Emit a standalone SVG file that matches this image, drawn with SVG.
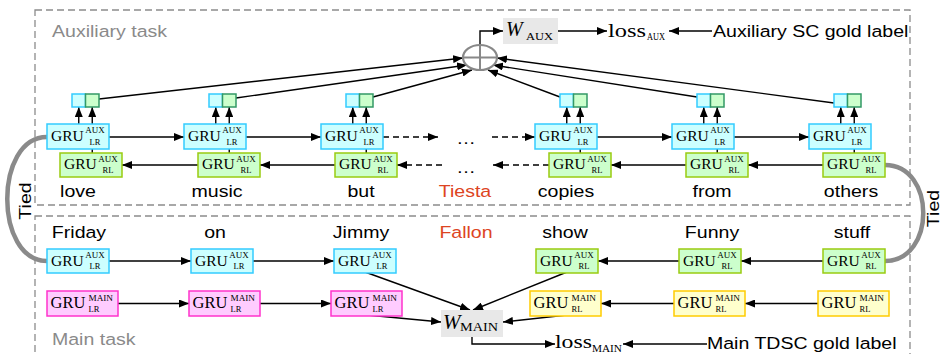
<svg xmlns="http://www.w3.org/2000/svg" width="941" height="354" viewBox="0 0 941 354">
<defs>
<marker id="ah" markerUnits="userSpaceOnUse" markerWidth="10" markerHeight="8" refX="10" refY="4" orient="auto" viewBox="0 0 10 8">
<path d="M0,0 L10,4 L0,8 Z" fill="#000"/>
</marker>
</defs>
<style>
.frame{fill:none;stroke:#8c8c8c;stroke-width:1.3;stroke-dasharray:7 4}
.c{fill:none;stroke:#000;stroke-width:1.4}
.a{fill:none;stroke:#000;stroke-width:1.4;marker-end:url(#ah)}
.d{stroke-dasharray:6 4}
.tie{fill:none;stroke:#8a8a8a;stroke-width:4.5}
.cy{fill:#ccffff;stroke:#33ccff;stroke-width:1.5}
.gr{fill:#ccffcc;stroke:#99cc11;stroke-width:1.5}
.sq{fill:#ccffcc;stroke:#339966;stroke-width:1.5}
.mg{fill:#ffccff;stroke:#ff33cc;stroke-width:1.5}
.ye{fill:#ffffcc;stroke:#ffcc00;stroke-width:1.5}
.wb{fill:#e8e8e8}
.g{font-family:"Liberation Serif",serif;font-size:15.5px;fill:#000}
.gm{font-family:"Liberation Serif",serif;font-size:16.5px;fill:#000}
.sp{font-family:"Liberation Serif",serif;font-size:9px;fill:#000;text-anchor:middle}
.sb{font-family:"Liberation Serif",serif;font-size:8.5px;fill:#000;text-anchor:middle}
.spm{font-family:"Liberation Serif",serif;font-size:9.2px;fill:#000}
.sbm{font-family:"Liberation Serif",serif;font-size:8.5px;fill:#000}
.w{font-family:"Liberation Sans",Arial,sans-serif;font-size:17px;fill:#000;text-anchor:middle}
.red{fill:#dd4422}
.lab{font-family:"Liberation Sans",Arial,sans-serif;font-size:17px;fill:#000}
.gray{fill:#8a8a8a}
.wi{font-family:"Liberation Serif",serif;font-style:italic;fill:#000}
.s{font-family:"Liberation Serif",serif;fill:#000}
</style>

<g id="frames">
<rect class="frame" x="35" y="10" width="875" height="195"/>
<rect class="frame" x="35" y="216" width="875" height="150"/>
<text class="lab gray" transform="translate(52,37) scale(1.15,1)">Auxiliary task</text>
<text class="lab gray" transform="translate(52,345) scale(1.15,1)">Main task</text>
</g>

<g id="connectors">
<path class="tie" d="M47,137 C-6,137 -6,261 47,261"/>
<path class="tie" d="M885,165 C936,165 936,261 885,261"/>
<path class="a" d="M78.75,124 V107"/><path class="a" d="M92.25,124 V107"/>
<path class="a" d="M215.75,124 V107"/><path class="a" d="M229.25,124 V107"/>
<path class="a" d="M352.75,124 V107"/><path class="a" d="M366.25,124 V107"/>
<path class="a" d="M566.75,124 V107"/><path class="a" d="M580.25,124 V107"/>
<path class="a" d="M703.75,124 V107"/><path class="a" d="M717.25,124 V107"/>
<path class="a" d="M840.75,124 V107"/><path class="a" d="M854.25,124 V107"/>
<path class="c" d="M92.25,149 V153"/><path class="c" d="M229.25,149 V153"/>
<path class="c" d="M366.25,149 V153"/><path class="c" d="M580.25,149 V153"/>
<path class="c" d="M717.25,149 V153"/><path class="c" d="M854.25,149 V153"/>
<path class="a" d="M109,137 H184"/>
<path class="a" d="M246,137 H321"/>
<path class="a d" d="M383,137 H438"/>
<path class="a d" d="M492,137 H535"/>
<path class="a" d="M597,137 H672"/>
<path class="a" d="M734,137 H809"/>
<path class="a" d="M198,165 H122"/>
<path class="a" d="M335,165 H260"/>
<path class="a d" d="M442,165 H397"/>
<path class="a d" d="M549,165 H493"/>
<path class="a" d="M686,165 H611"/>
<path class="a" d="M823,165 H748"/>
<path class="a" d="M99,99 L463,58"/>
<path class="a" d="M236,98 L467,65"/>
<path class="a" d="M373,97 L472,70"/>
<path class="a" d="M560,97 L488,70"/>
<path class="a" d="M697,97 L493,65"/>
<path class="a" d="M834,103 L497,58"/>
<path class="a" d="M480,45 V31 H503"/>
<path class="a" d="M558,31 H607"/>
<path class="a" d="M712,31 H669"/>
<path class="a" d="M109,261 H191"/>
<path class="a" d="M253,261 H334"/>
<path class="a" d="M823,261 H741"/>
<path class="a" d="M679,261 H598"/>
<path class="a" d="M118,303.5 H189"/>
<path class="a" d="M260,303.5 H331"/>
<path class="a" d="M818,303.5 H745"/>
<path class="a" d="M674,303.5 H601"/>
<path class="a" d="M365,272 L470,310"/>
<path class="a" d="M567,272 L473,310"/>
<path class="a" d="M367,315 L441,322"/>
<path class="a" d="M567,315 L503,322"/>
<path class="a" d="M472,337 V344 H555"/>
<path class="a" d="M707,344 H623"/>
</g>

<g id="combiner">
<ellipse cx="480" cy="57.5" rx="17" ry="12.5" fill="#fff" stroke="#888" stroke-width="2.2"/>
<path d="M480,45 V70 M463,57.5 H497" stroke="#888" stroke-width="2" fill="none"/>
</g>

<g id="w-aux">
<rect class="wb" x="503" y="18" width="55" height="26"/>
<text class="wi" x="506" y="36" font-size="20">W</text>
<text class="s" x="526" y="39.5" font-size="11" textLength="27" lengthAdjust="spacingAndGlyphs">AUX</text>
</g>
<g id="loss-aux">
<text class="s" x="608" y="36.5" font-size="18" textLength="38" lengthAdjust="spacingAndGlyphs">loss</text>
<text class="s" x="647" y="40" font-size="10" textLength="18" lengthAdjust="spacingAndGlyphs">AUX</text>
</g>
<g id="gold-aux"><text class="lab" transform="translate(713,37) scale(1.15,1)">Auxiliary SC gold label</text></g>

<g id="w-main">
<rect class="wb" x="441" y="310" width="62" height="27"/>
<text class="wi" x="443" y="329" font-size="21">W</text>
<text class="s" x="460" y="331" font-size="11.5" textLength="38" lengthAdjust="spacingAndGlyphs">MAIN</text>
</g>
<g id="loss-main">
<text class="s" x="555" y="348" font-size="18" textLength="37" lengthAdjust="spacingAndGlyphs">loss</text>
<text class="s" x="592" y="352" font-size="10" textLength="30" lengthAdjust="spacingAndGlyphs">MAIN</text>
</g>
<g id="gold-main"><text class="lab" transform="translate(707,349) scale(1.15,1)">Main TDSC gold label</text></g>

<g id="out1"><rect class="cy" x="72" y="94" width="13.5" height="13"/><rect class="sq" x="85.5" y="94" width="13.5" height="13"/></g>
<g id="out2"><rect class="cy" x="209" y="94" width="13.5" height="13"/><rect class="sq" x="222.5" y="94" width="13.5" height="13"/></g>
<g id="out3"><rect class="cy" x="346" y="94" width="13.5" height="13"/><rect class="sq" x="359.5" y="94" width="13.5" height="13"/></g>
<g id="out4"><rect class="cy" x="560" y="94" width="13.5" height="13"/><rect class="sq" x="573.5" y="94" width="13.5" height="13"/></g>
<g id="out5"><rect class="cy" x="697" y="94" width="13.5" height="13"/><rect class="sq" x="710.5" y="94" width="13.5" height="13"/></g>
<g id="out6"><rect class="cy" x="834" y="94" width="13.5" height="13"/><rect class="sq" x="847.5" y="94" width="13.5" height="13"/></g>

<g id="alr1"><rect class="cy" x="47" y="124" width="62" height="25"/><text class="g" x="51" y="140.5">GRU</text><text class="sp" x="95" y="133">AUX</text><text class="sb" x="95" y="144.5">LR</text></g>
<g id="alr2"><rect class="cy" x="184" y="124" width="62" height="25"/><text class="g" x="188" y="140.5">GRU</text><text class="sp" x="232" y="133">AUX</text><text class="sb" x="232" y="144.5">LR</text></g>
<g id="alr3"><rect class="cy" x="321" y="124" width="62" height="25"/><text class="g" x="325" y="140.5">GRU</text><text class="sp" x="369" y="133">AUX</text><text class="sb" x="369" y="144.5">LR</text></g>
<g id="alr4"><rect class="cy" x="535" y="124" width="62" height="25"/><text class="g" x="539" y="140.5">GRU</text><text class="sp" x="583" y="133">AUX</text><text class="sb" x="583" y="144.5">LR</text></g>
<g id="alr5"><rect class="cy" x="672" y="124" width="62" height="25"/><text class="g" x="676" y="140.5">GRU</text><text class="sp" x="720" y="133">AUX</text><text class="sb" x="720" y="144.5">LR</text></g>
<g id="alr6"><rect class="cy" x="809" y="124" width="62" height="25"/><text class="g" x="813" y="140.5">GRU</text><text class="sp" x="857" y="133">AUX</text><text class="sb" x="857" y="144.5">LR</text></g>

<g id="arl1"><rect class="gr" x="60" y="153" width="62" height="24"/><text class="g" x="64" y="169">GRU</text><text class="sp" x="108" y="161.5">AUX</text><text class="sb" x="108" y="173">RL</text></g>
<g id="arl2"><rect class="gr" x="198" y="153" width="62" height="24"/><text class="g" x="202" y="169">GRU</text><text class="sp" x="246" y="161.5">AUX</text><text class="sb" x="246" y="173">RL</text></g>
<g id="arl3"><rect class="gr" x="335" y="153" width="62" height="24"/><text class="g" x="339" y="169">GRU</text><text class="sp" x="383" y="161.5">AUX</text><text class="sb" x="383" y="173">RL</text></g>
<g id="arl4"><rect class="gr" x="549" y="153" width="62" height="24"/><text class="g" x="553" y="169">GRU</text><text class="sp" x="597" y="161.5">AUX</text><text class="sb" x="597" y="173">RL</text></g>
<g id="arl5"><rect class="gr" x="686" y="153" width="62" height="24"/><text class="g" x="690" y="169">GRU</text><text class="sp" x="734" y="161.5">AUX</text><text class="sb" x="734" y="173">RL</text></g>
<g id="arl6"><rect class="gr" x="823" y="153" width="62" height="24"/><text class="g" x="827" y="169">GRU</text><text class="sp" x="871" y="161.5">AUX</text><text class="sb" x="871" y="173">RL</text></g>

<g id="dots">
<text class="w" transform="translate(466,144) scale(1.15,1)">…</text>
<text class="w" transform="translate(466,173) scale(1.15,1)">…</text>
</g>

<g id="words1">
<text class="w" transform="translate(78,197) scale(1.15,1)">love</text>
<text class="w" transform="translate(217,197) scale(1.15,1)">music</text>
<text class="w" transform="translate(361,197) scale(1.15,1)">but</text>
<text class="w red" transform="translate(465,197) scale(1.15,1)">Tiesta</text>
<text class="w" transform="translate(566,197) scale(1.15,1)">copies</text>
<text class="w" transform="translate(712,197) scale(1.15,1)">from</text>
<text class="w" transform="translate(851,197) scale(1.15,1)">others</text>
</g>
<g id="words2">
<text class="w" transform="translate(79,238) scale(1.15,1)">Friday</text>
<text class="w" transform="translate(215,238) scale(1.15,1)">on</text>
<text class="w" transform="translate(361,238) scale(1.15,1)">Jimmy</text>
<text class="w red" transform="translate(466,238) scale(1.15,1)">Fallon</text>
<text class="w" transform="translate(565,238) scale(1.15,1)">show</text>
<text class="w" transform="translate(712,238) scale(1.15,1)">Funny</text>
<text class="w" transform="translate(852,238) scale(1.15,1)">stuff</text>
</g>

<g id="tied">
<text class="w" transform="translate(31,201) rotate(-90) scale(1.15,1)">Tied</text>
<text class="w" transform="translate(939,208.5) rotate(-90) scale(1.15,1)">Tied</text>
</g>

<g id="blr1"><rect class="cy" x="47" y="249" width="62" height="24"/><text class="g" x="51" y="265.5">GRU</text><text class="sp" x="95" y="257.5">AUX</text><text class="sb" x="95" y="269">LR</text></g>
<g id="blr2"><rect class="cy" x="191" y="249" width="62" height="24"/><text class="g" x="195" y="265.5">GRU</text><text class="sp" x="239" y="257.5">AUX</text><text class="sb" x="239" y="269">LR</text></g>
<g id="blr3"><rect class="cy" x="334" y="249" width="62" height="24"/><text class="g" x="338" y="265.5">GRU</text><text class="sp" x="382" y="257.5">AUX</text><text class="sb" x="382" y="269">LR</text></g>
<g id="brl4"><rect class="gr" x="536" y="249" width="62" height="24"/><text class="g" x="540" y="265.5">GRU</text><text class="sp" x="584" y="257.5">AUX</text><text class="sb" x="584" y="269">RL</text></g>
<g id="brl5"><rect class="gr" x="679" y="249" width="62" height="24"/><text class="g" x="683" y="265.5">GRU</text><text class="sp" x="727" y="257.5">AUX</text><text class="sb" x="727" y="269">RL</text></g>
<g id="brl6"><rect class="gr" x="823" y="249" width="62" height="24"/><text class="g" x="827" y="265.5">GRU</text><text class="sp" x="871" y="257.5">AUX</text><text class="sb" x="871" y="269">RL</text></g>

<g id="mlr1"><rect class="mg" x="47" y="291" width="71" height="25"/><text class="gm" x="50.5" y="307.5">GRU</text><text class="spm" x="88.5" y="301">MAIN</text><text class="sbm" x="88.5" y="311.5">LR</text></g>
<g id="mlr2"><rect class="mg" x="189" y="291" width="71" height="25"/><text class="gm" x="192.5" y="307.5">GRU</text><text class="spm" x="230.5" y="301">MAIN</text><text class="sbm" x="230.5" y="311.5">LR</text></g>
<g id="mlr3"><rect class="mg" x="331" y="291" width="71" height="25"/><text class="gm" x="334.5" y="307.5">GRU</text><text class="spm" x="372.5" y="301">MAIN</text><text class="sbm" x="372.5" y="311.5">LR</text></g>
<g id="mrl4"><rect class="ye" x="530" y="291" width="71" height="25"/><text class="gm" x="533.5" y="307.5">GRU</text><text class="spm" x="571.5" y="301">MAIN</text><text class="sbm" x="571.5" y="311.5">RL</text></g>
<g id="mrl5"><rect class="ye" x="674" y="291" width="71" height="25"/><text class="gm" x="677.5" y="307.5">GRU</text><text class="spm" x="715.5" y="301">MAIN</text><text class="sbm" x="715.5" y="311.5">RL</text></g>
<g id="mrl6"><rect class="ye" x="818" y="291" width="71" height="25"/><text class="gm" x="821.5" y="307.5">GRU</text><text class="spm" x="859.5" y="301">MAIN</text><text class="sbm" x="859.5" y="311.5">RL</text></g>
</svg>
